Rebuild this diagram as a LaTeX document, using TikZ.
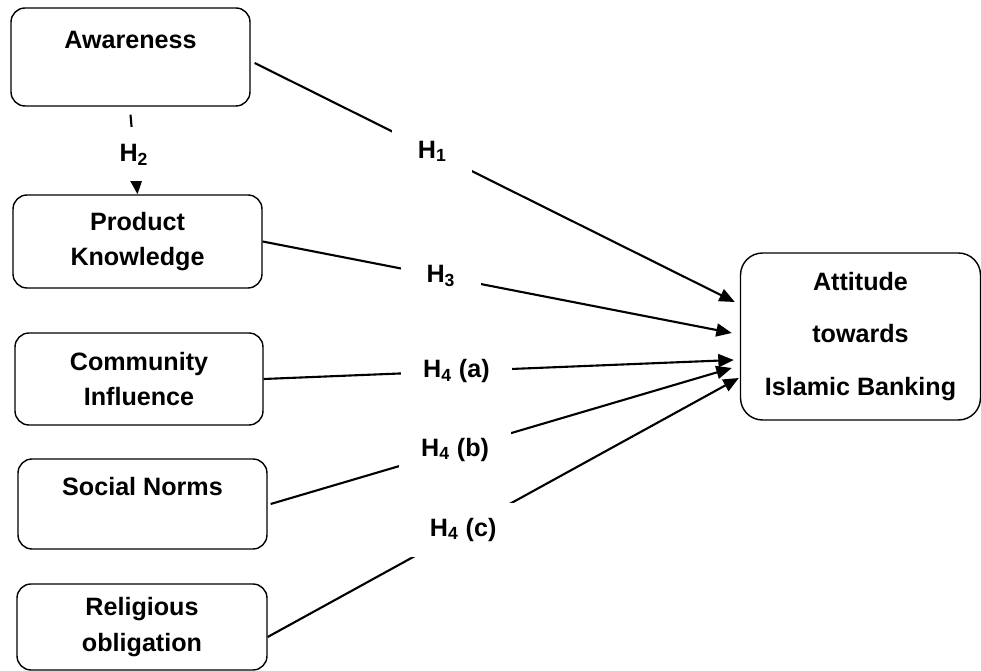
\documentclass[tikz,border=0pt]{standalone}
\usepackage{fontspec}
\setmainfont{Liberation Sans}
\usetikzlibrary{arrows.meta}

\begin{document}
\begin{tikzpicture}[x=0.02cm, y=-0.02cm,
    font=\fontsize{14.3}{20}\selectfont\bfseries,
    factor/.style={draw, line width=0.8pt, rounded corners=0.28cm, align=center, inner sep=0pt},
    outcome/.style={factor, rounded corners=0.44cm, font=\fontsize{14.3}{30}\selectfont\bfseries},
    hyp/.style={fill=white, inner xsep=0.44cm, inner ysep=0pt, minimum width=1.6cm, minimum height=1.08cm},
    conn/.style={line width=1.2pt, -{Triangle[length=3.1mm, width=2.6mm]}}]
    \useasboundingbox (0,0) rectangle (981,671);
    % factors on the left
    \node[factor, minimum width=4.78cm, minimum height=1.96cm] (aw) at (130.5,57) {Awareness\\\mbox{}};
    \node[factor, minimum width=4.98cm, minimum height=1.86cm] (pk) at (137.5,241.5) {Product\\Knowledge};
    \node[factor, minimum width=4.96cm, minimum height=1.84cm] (ci) at (139,379) {Community\\Influence};
    \node[factor, minimum width=4.98cm, minimum height=1.80cm] (sn) at (142.5,504) {Social Norms\\\mbox{}};
    \node[factor, minimum width=5.00cm, minimum height=1.72cm] (ro) at (142,627) {Religious\\obligation};
    % outcome
    \node[outcome, minimum width=4.80cm, minimum height=3.34cm] (att) at (860.5,336.5) {Attitude\\towards\\Islamic Banking};
    % hypotheses
    \draw[conn] ([yshift=-0.16cm]aw.south) -- node[hyp, pos=0.5] {H\textsubscript{2}} (pk.north);
    \draw[conn] ([xshift=0.08cm, yshift=-0.12cm]aw.east) -- node[hyp, pos=0.37] {H\textsubscript{1}} ([xshift=-0.1cm, yshift=0.69cm]att.west);
    \draw[conn] (pk.east) -- node[hyp, pos=0.38] {H\textsubscript{3}} ([xshift=-0.16cm, yshift=0.07cm]att.west);
    \draw[conn] (ci.east) -- node[hyp, pos=0.41] {H\textsubscript{4} (a)} ([xshift=-0.12cm, yshift=-0.47cm]att.west);
    \draw[conn] ([xshift=0.06cm]sn.east) -- node[hyp, pos=0.40] {H\textsubscript{4} (b)} ([xshift=-0.16cm, yshift=-0.63cm]att.west);
    \draw[conn] ([yshift=-0.2cm]ro.east) -- node[hyp, pos=0.415] {H\textsubscript{4} (c)} ([xshift=-0.02cm, yshift=-0.83cm]att.west);
\end{tikzpicture}
\end{document}
